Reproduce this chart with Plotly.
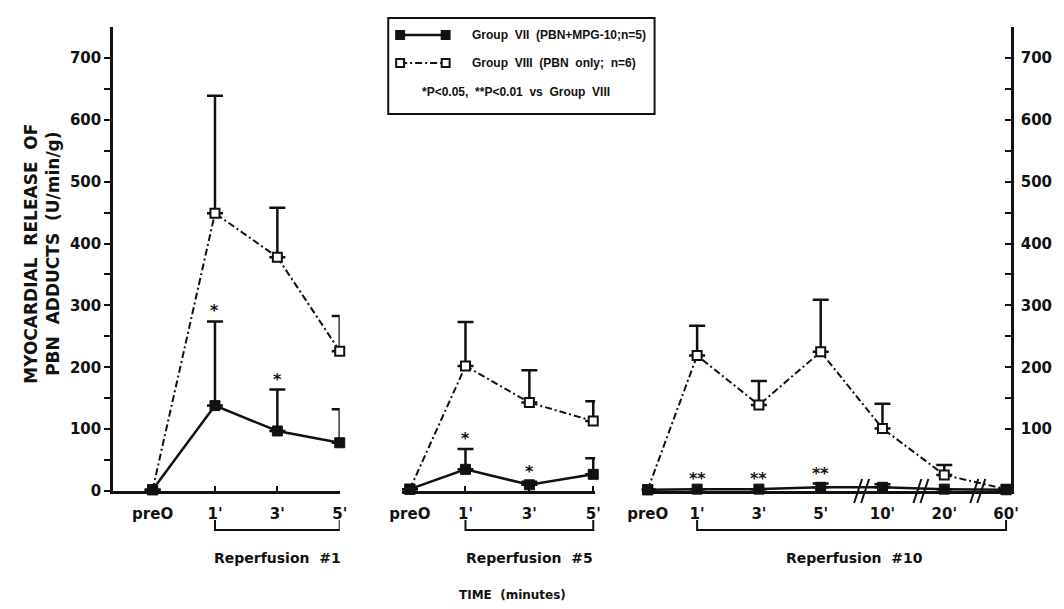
import plotly.graph_objects as go

# ---------------- data ----------------
CATS_SHORT = ["preO", "1'", "3'", "5'"]
CATS_LONG = ["preO", "1'", "3'", "5'", "10'", "20'", "60'"]

G7_R1 = [2, 138, 97, 78]
G7_R1_ERR = [0, 136, 67, 54]
G8_R1 = [2, 449, 378, 226]
G8_R1_ERR = [0, 190, 80, 57]

G7_R5 = [3, 35, 10, 27]
G7_R5_ERR = [0, 33, 5, 26]
G8_R5 = [3, 202, 143, 113]
G8_R5_ERR = [0, 71, 52, 32]

G7_R10 = [2, 3, 3, 6, 6, 3, 2]
G7_R10_ERR = [0, 0, 0, 6, 5, 0, 0]
G8_R10 = [2, 219, 139, 225, 101, 26, 3]
G8_R10_ERR = [0, 48, 39, 84, 40, 16, 0]

SIG_R1 = ["", "*", "*", ""]
SIG_R5 = ["", "*", "*", ""]
SIG_R10 = ["", "**", "**", "**", "", "", ""]

Y_TICKS = [0, 100, 200, 300, 400, 500, 600, 700]

# ---------------- layout constants ----------------
W, H = 1064, 609
L, R, T, B = 113, 44, 27, 118
PW, PH = W - L - R, H - T - B
FONT = "DejaVu Sans"
LFONT = "Liberation Sans"
BLACK = "#111111"

def pxx(x):
    return (x - L) / PW

def pxy(y):
    return (H - B - y) / PH

PREO_POS = [0.0, 0.13, 0.2]
PANELS = [
    dict(xa="x", cats=CATS_SHORT, g7=G7_R1, g7e=G7_R1_ERR, g8=G8_R1, g8e=G8_R1_ERR,
         sig=SIG_R1, dom=[pxx(113), pxx(342)], rng=[-0.635, 3.0], preo=PREO_POS[0],
         label="Reperfusion&nbsp;&nbsp;#1", lx=2.0),
    dict(xa="x2", cats=CATS_SHORT, g7=G7_R5, g7e=G7_R5_ERR, g8=G8_R5, g8e=G8_R5_ERR,
         sig=SIG_R5, dom=[pxx(405), pxx(600)], rng=[0.008, 3.03], preo=PREO_POS[1],
         label="Reperfusion&nbsp;&nbsp;#5", lx=2.0),
    dict(xa="x3", cats=CATS_LONG, g7=G7_R10, g7e=G7_R10_ERR, g8=G8_R10, g8e=G8_R10_ERR,
         sig=SIG_R10, dom=[pxx(647), 1.0], rng=[0.103, 6.08], preo=PREO_POS[2],
         label="Reperfusion&nbsp;&nbsp;#10", lx=3.55),
]
BREAKS = [3.67, 4.63, 5.55]

G8_DASH = "7px,3px,2px,3px"

fig = go.Figure()
annotations = []
shapes = []

for i, p in enumerate(PANELS):
    xs = [p["preo"]] + list(range(1, len(p["cats"])))
    # Group VIII (open squares, dash-dot)
    fig.add_trace(go.Scatter(
        x=xs, y=p["g8"], xaxis=p["xa"], yaxis="y", mode="lines+markers",
        line=dict(color=BLACK, width=2, dash=G8_DASH),
        marker=dict(symbol="square", size=9, color="white", line=dict(color=BLACK, width=2)),
        error_y=dict(type="data", symmetric=False, array=p["g8e"], arrayminus=[0] * len(xs),
                     color=BLACK, thickness=2.5, width=8),
        cliponaxis=False, showlegend=False, hoverinfo="skip"))
    # Group VII (filled squares, solid)
    fig.add_trace(go.Scatter(
        x=xs, y=p["g7"], xaxis=p["xa"], yaxis="y", mode="lines+markers",
        line=dict(color=BLACK, width=2.5),
        marker=dict(symbol="square", size=10, color=BLACK, line=dict(color=BLACK, width=1)),
        error_y=dict(type="data", symmetric=False, array=p["g7e"], arrayminus=[0] * len(xs),
                     color=BLACK, thickness=2.5, width=8),
        cliponaxis=False, showlegend=False, hoverinfo="skip"))
    # significance markers
    for x, v, e, s in zip(xs, p["g7"], p["g7e"], p["sig"]):
        if s:
            annotations.append(dict(
                x=x, y=v + e, xref=p["xa"], yref="y", text=s, showarrow=False,
                yanchor="bottom", yshift=-1,
                font=dict(family=FONT, size=16, color=BLACK, weight="bold")))
    # bracket under reperfusion points
    x_end = len(p["cats"]) - 1
    shapes.append(dict(
        type="path", xref=p["xa"], yref="paper",
        path=f"M 1,{pxy(520)} L 1,{pxy(530)} L {x_end},{pxy(530)} L {x_end},{pxy(520)}",
        line=dict(color=BLACK, width=2)))
    annotations.append(dict(
        x=p["lx"], y=pxy(558), xref=p["xa"], yref="paper", text=p["label"],
        showarrow=False, xanchor="center", yanchor="middle",
        font=dict(family=FONT, size=14, color=BLACK, weight="bold")))

    axis = dict(
        domain=p["dom"], range=p["rng"], anchor="y", showgrid=False, zeroline=False,
        showline=True, linecolor=BLACK, linewidth=2.5,
        tickmode="array", tickvals=xs, ticktext=p["cats"],
        ticks="inside", ticklen=5, tickwidth=2, tickcolor=BLACK,
        ticklabelstandoff=7,
        tickfont=dict(family=FONT, size=15, color=BLACK, weight="bold"))
    key = "xaxis" if i == 0 else f"xaxis{i + 1}"
    fig.update_layout(**{key: axis})

# invisible trace for the right-hand axis
fig.add_trace(go.Scatter(x=[], y=[], xaxis="x3", yaxis="y2", showlegend=False))

# axis breaks on the third panel
for b in BREAKS:
    for off in (-4, 3):
        shapes.append(dict(
            type="line", xref="x3", yref="paper", xsizemode="pixel", xanchor=b,
            x0=off - 4, x1=off + 4, y0=pxy(503), y1=pxy(479),
            line=dict(color=BLACK, width=2)))

minor50 = [v for v in range(0, 751, 50)]
fig.update_layout(
    yaxis=dict(
        range=[0, 750], anchor="x", showgrid=False, zeroline=False,
        showline=True, linecolor=BLACK, linewidth=2.5,
        tickmode="array", tickvals=[v for v in minor50 if v <= 700],
        ticktext=[str(v) if v in Y_TICKS else "" for v in minor50 if v <= 700],
        ticks="outside", ticklen=6, tickwidth=2, tickcolor=BLACK,
        tickfont=dict(family=FONT, size=15, color=BLACK, weight="bold")),
    yaxis2=dict(
        range=[0, 750], overlaying="y", side="right", anchor="x3",
        showgrid=False, zeroline=False,
        showline=True, linecolor=BLACK, linewidth=2.5,
        tickmode="array", tickvals=[v for v in minor50 if 100 <= v <= 700],
        ticktext=[str(v) if v in Y_TICKS else "" for v in minor50 if 100 <= v <= 700],
        ticks="inside", ticklen=6, tickwidth=2, tickcolor=BLACK, ticklabelstandoff=4,
        tickfont=dict(family=FONT, size=15, color=BLACK, weight="bold")),
)

# y-axis title and x-axis title
annotations.append(dict(
    x=pxx(41), y=pxy(254), xref="paper", yref="paper", textangle=-90, showarrow=False,
    xanchor="center", yanchor="middle",
    text="MYOCARDIAL&nbsp;&nbsp;RELEASE&nbsp;&nbsp;OF<br>PBN&nbsp;&nbsp;ADDUCTS&nbsp;&nbsp;(U/min/g)",
    font=dict(family=FONT, size=17, color=BLACK, weight="bold")))
annotations.append(dict(
    x=pxx(516), y=pxy(595), xref="paper", yref="paper", showarrow=False,
    xanchor="center", yanchor="middle",
    text="TIME&nbsp;&nbsp;(minutes)",
    font=dict(family=FONT, size=12, color=BLACK, weight="bold")))

# legend box
shapes.append(dict(type="rect", xref="paper", yref="paper",
                   x0=pxx(391), x1=pxx(660), y0=pxy(114), y1=pxy(18),
                   line=dict(color=BLACK, width=2), fillcolor="white", layer="below"))
legend_rows = [
    (35, "solid", BLACK, "Group&nbsp;&nbsp;VII&nbsp;&nbsp;(PBN+MPG-10;n=5)"),
    (63, G8_DASH, "white", "Group&nbsp;&nbsp;VIII&nbsp;&nbsp;(PBN&nbsp;&nbsp;only;&nbsp;&nbsp;n=6)"),
]
for yrow, dash, fill, label in legend_rows:
    shapes.append(dict(type="line", xref="paper", yref="paper",
                       x0=pxx(403), x1=pxx(449), y0=pxy(yrow), y1=pxy(yrow),
                       line=dict(color=BLACK, width=2.5 if dash == "solid" else 2, dash=dash)))
    for xc in (403, 449):
        shapes.append(dict(type="rect", xref="paper", yref="paper",
                           x0=pxx(xc - 4), x1=pxx(xc + 4), y0=pxy(yrow + 4), y1=pxy(yrow - 4),
                           line=dict(color=BLACK, width=2), fillcolor=fill))
    annotations.append(dict(x=pxx(474), y=pxy(yrow), xref="paper", yref="paper",
                            xanchor="left", yanchor="middle", showarrow=False, text=label,
                            font=dict(family=LFONT, size=12, color=BLACK, weight="bold")))
annotations.append(dict(x=pxx(423), y=pxy(92), xref="paper", yref="paper",
                        xanchor="left", yanchor="middle", showarrow=False,
                        text="*P&lt;0.05,&nbsp;&nbsp;**P&lt;0.01&nbsp;&nbsp;vs&nbsp;&nbsp;Group&nbsp;&nbsp;VIII",
                        font=dict(family=LFONT, size=12, color=BLACK, weight="bold")))

fig.update_layout(
    width=W, height=H, autosize=False,
    margin=dict(l=L, r=R, t=T, b=B, pad=0),
    paper_bgcolor="white", plot_bgcolor="white",
    shapes=shapes, annotations=annotations, showlegend=False,
)

fig.write_html("out.html")
